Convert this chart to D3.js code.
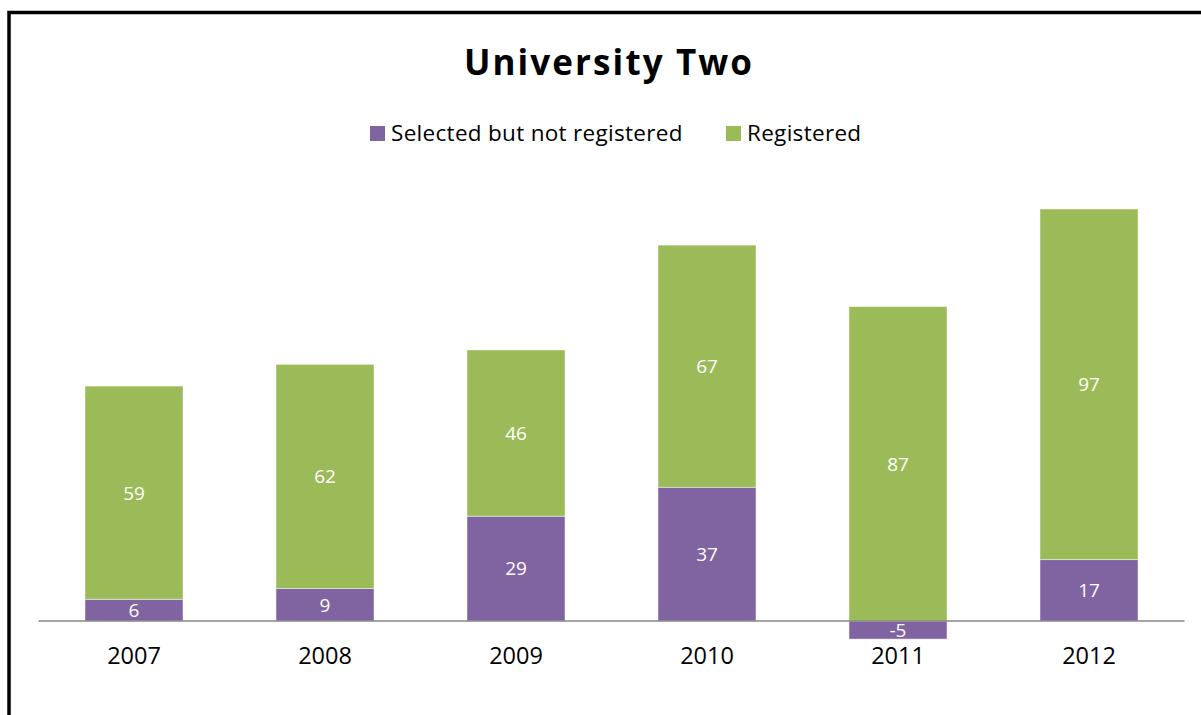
<!DOCTYPE html>
<html>
<head>
<meta charset="utf-8">
<script src="https://cdn.jsdelivr.net/npm/d3@7"></script>
<style>
  html, body { margin: 0; padding: 0; background: #fff; }
  svg { display: block; }
</style>
</head>
<body>
<svg id="chart" width="1201" height="715"></svg>
<script>
const title = "University Two";
const years = ["2007", "2008", "2009", "2010", "2011", "2012"];
const seriesNames = ["Selected but not registered", "Registered"];
const selectedNotRegistered = [6, 9, 29, 37, -5, 17];
const registered = [59, 62, 46, 67, 87, 97];
const colors = ["#8064A2", "#9BBB59"];

const rows = years.map((y, i) => ({
  year: y,
  [seriesNames[0]]: selectedNotRegistered[i],
  [seriesNames[1]]: registered[i]
}));

const svg = d3.select("#chart");

// outer border
svg.append("rect")
  .attr("x", 9).attr("y", 12.5)
  .attr("width", 1300).attr("height", 800)
  .attr("fill", "#fff").attr("stroke", "#000").attr("stroke-width", 3.5);

const x = d3.scaleBand().domain(years).range([38.5, 1184.5])
  .paddingInner(0.487).paddingOuter(0.2435);
const y = d3.scaleLinear().domain([-20, 120]).range([693.3, 187.3]);

const stack = d3.stack().keys(seriesNames).offset(d3.stackOffsetDiverging);
const stacked = stack(rows);

const g = svg.append("g");
stacked.forEach((layer, li) => {
  const lg = g.append("g");
  lg.selectAll("rect").data(layer).enter().append("rect")
    .attr("x", d => x(d.data.year))
    .attr("width", x.bandwidth())
    .attr("y", d => y(Math.max(d[0], d[1])))
    .attr("height", d => Math.abs(y(d[0]) - y(d[1])))
    .attr("fill", colors[li])
    .attr("stroke", "rgba(255,255,255,0.45)")
    .attr("stroke-width", 1);
  lg.selectAll("text").data(layer).enter().append("text")
    .attr("x", d => x(d.data.year) + x.bandwidth() / 2)
    .attr("y", d => (y(d[0]) + y(d[1])) / 2)
    .attr("dy", "0.36em")
    .attr("text-anchor", "middle")
    .attr("font-family", "'Open Sans', sans-serif")
    .attr("font-size", 19)
    .attr("fill", "#fff")
    .text(d => d.data[layer.key]);
});

// axis
const axis = d3.axisBottom(x).tickSize(0).tickSizeOuter(0).tickPadding(26);
const ax = svg.append("g").attr("transform", `translate(0,${y(0)})`).call(axis);
ax.select(".domain").remove();
ax.append("line")
  .attr("x1", x.range()[0]).attr("x2", x.range()[1])
  .attr("y1", 0).attr("y2", 0)
  .attr("stroke", "#868686").attr("stroke-width", 1.6);
ax.selectAll("text")
  .attr("font-family", "'Open Sans', sans-serif")
  .attr("font-size", 23.5)
  .attr("fill", "#000");

// title
svg.append("text")
  .attr("x", 609).attr("y", 75)
  .attr("text-anchor", "middle")
  .attr("font-family", "'Open Sans', sans-serif")
  .attr("font-weight", "bold")
  .attr("font-size", 35)
  .attr("letter-spacing", 2.1)
  .attr("fill", "#000")
  .text(title);

// legend
const legendItems = [
  { name: seriesNames[0], color: colors[0], x: 370 },
  { name: seriesNames[1], color: colors[1], x: 726 }
];
const leg = svg.append("g");
legendItems.forEach(it => {
  leg.append("rect").attr("x", it.x).attr("y", 126)
    .attr("width", 15).attr("height", 15).attr("fill", it.color);
  leg.append("text").attr("x", it.x + 21).attr("y", 141)
    .attr("font-family", "'Open Sans', sans-serif")
    .attr("font-size", 22.5)
    .attr("letter-spacing", 0.3)
    .attr("fill", "#000")
    .text(it.name);
});
</script>
</body>
</html>
